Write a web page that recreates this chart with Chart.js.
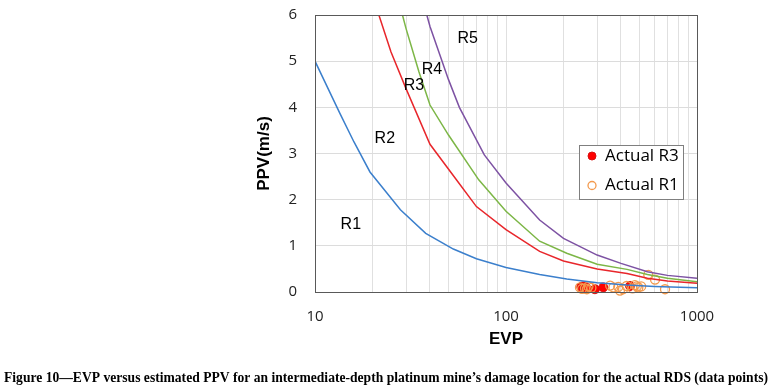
<!DOCTYPE html>
<html>
<head>
<meta charset="UTF-8">
<title>EVP versus PPV</title>
<script src="https://cdn.jsdelivr.net/npm/chart.js@4.4.1/dist/chart.umd.min.js"></script>
<style>
    body { margin: 0; background: #fff; }
</style>
</head>
<body>
<canvas id="myChart" width="772" height="388"></canvas>
<script>
// boundary curves, EVP (x) and PPV in m/s (y)
var blueEVP = [10, 13.5, 16, 19.4, 28, 38, 53, 70, 100, 150, 208, 300, 430, 600, 1000];
var bluePPV = [5.0, 3.87, 3.25, 2.6, 1.78, 1.27, 0.93, 0.72, 0.53, 0.38, 0.28, 0.2, 0.15, 0.12, 0.09];

var redEVP = [20, 21.6, 25, 30, 40, 55, 70, 100, 150, 200, 300, 430, 550, 700, 1000];
var redPPV = [6.55, 6.0, 5.2, 4.4, 3.2, 2.43, 1.85, 1.35, 0.88, 0.67, 0.5, 0.4, 0.3, 0.24, 0.19];

var greenEVP = [27, 28.7, 30, 35, 40, 50, 72, 100, 150, 208, 300, 430, 550, 700, 1000];
var greenPPV = [6.4, 6.0, 5.7, 4.77, 4.05, 3.4, 2.43, 1.75, 1.1, 0.84, 0.6, 0.49, 0.38, 0.3, 0.22];

var purpleEVP = [36, 38.5, 40, 50, 57, 77, 100, 150, 200, 300, 400, 550, 700, 1000];
var purplePPV = [6.5, 6.0, 5.75, 4.6, 4.0, 2.97, 2.36, 1.56, 1.16, 0.8, 0.62, 0.44, 0.36, 0.3];

// actual damage points
var r3EVP = [248, 254, 262, 292, 323, 446];
var r3PPV = [0.11, 0.12, 0.1, 0.06, 0.1, 0.13];

var r1EVP = [244, 250, 259, 265, 270, 280, 351, 365, 387, 395, 410, 428, 460, 473, 484, 493, 510, 556, 603, 680];
var r1PPV = [0.1, 0.07, 0.08, 0.06, 0.12, 0.09, 0.14, 0.1, 0.11, 0.03, 0.06, 0.13, 0.08, 0.15, 0.12, 0.1, 0.12, 0.37, 0.27, 0.06];

// region labels placed in data units
var regionNames = ['R1', 'R2', 'R3', 'R4', 'R5'];
var regionEVP = [15.4, 23.2, 33, 41, 63];
var regionPPV = [1.47, 3.33, 4.48, 4.81, 5.49];

var xGridTicks = [10, 20, 30, 40, 50, 60, 70, 80, 90, 100, 200, 300, 400, 500, 600, 700, 800, 900, 1000];
var xTickLabels = [10, 100, 1000];
var yTicks = [0, 1, 2, 3, 4, 5, 6];

var caption = 'Figure 10\u2014EVP versus estimated PPV for an intermediate-depth platinum mine\u2019s damage location for the actual RDS (data points)';

function toPoints(xs, ys) {
    var pts = [];
    for (var i = 0; i < xs.length; i++) pts.push({ x: xs[i], y: ys[i] });
    return pts;
}

function curve(label, xs, ys, color) {
    return {
        label: label,
        data: toPoints(xs, ys),
        showLine: true,
        borderColor: color,
        backgroundColor: color,
        borderWidth: 1.5,
        pointRadius: 0,
        tension: 0,
        legendRow: -1
    };
}

// plot border, region labels, legend box and caption
var extras = {
    id: 'extras',
    afterDatasetsDraw: function (chart) {
        var ctx = chart.ctx, a = chart.chartArea;
        var xs = chart.scales.x, ys = chart.scales.y;
        ctx.save();
        ctx.strokeStyle = '#595959';
        ctx.lineWidth = 1;
        ctx.strokeRect(a.left + 0.5, a.top + 0.5, a.right - a.left, a.bottom - a.top);

        ctx.fillStyle = '#000';
        ctx.font = '16px "Liberation Sans", Arial, sans-serif';
        ctx.textAlign = 'center';
        ctx.textBaseline = 'middle';
        for (var i = 0; i < regionNames.length; i++) {
            ctx.fillText(regionNames[i], xs.getPixelForValue(regionEVP[i]), ys.getPixelForValue(regionPPV[i]));
        }

        // legend
        var items = chart.data.datasets.filter(function (d) { return d.legendRow >= 0; });
        items.sort(function (p, q) { return p.legendRow - q.legendRow; });
        var bx = a.right - 118, by = a.top + 130, bw = 104, bh = 54;
        ctx.fillStyle = '#fff';
        ctx.fillRect(bx, by, bw, bh);
        ctx.strokeStyle = '#7f7f7f';
        ctx.strokeRect(bx + 0.5, by + 0.5, bw, bh);
        ctx.font = '17px "Open Sans", sans-serif';
        ctx.textAlign = 'left';
        for (var j = 0; j < items.length; j++) {
            var d = items[j];
            var cy = by + 11 + j * 29.5;
            ctx.beginPath();
            ctx.arc(bx + 13, cy, 4, 0, Math.PI * 2);
            ctx.fillStyle = d.pointBackgroundColor;
            ctx.fill();
            ctx.lineWidth = d.pointBorderWidth;
            ctx.strokeStyle = d.pointBorderColor;
            ctx.stroke();
            ctx.fillStyle = '#000';
            ctx.fillText(d.label, bx + 26, cy);
        }
        ctx.restore();
    },
    afterDraw: function (chart) {
        var ctx = chart.ctx;
        ctx.save();
        ctx.fillStyle = '#000';
        ctx.font = 'bold 15px "Liberation Serif", "Times New Roman", serif';
        ctx.textAlign = 'center';
        ctx.textBaseline = 'alphabetic';
        ctx.fillText(caption, chart.width / 2, 382, 764);
        ctx.restore();
    }
};

var ctx = document.getElementById('myChart').getContext('2d');
var chart = new Chart(ctx, {
    type: 'scatter',
    data: {
        datasets: [
            curve('R1/R2', blueEVP, bluePPV, '#3b7fcc'),
            curve('R2/R3', redEVP, redPPV, '#e8262b'),
            curve('R3/R4', greenEVP, greenPPV, '#7cb646'),
            curve('R4/R5', purpleEVP, purplePPV, '#7d52a3'),
            {
                label: 'Actual R1',
                data: toPoints(r1EVP, r1PPV),
                showLine: false,
                pointRadius: 4.5,
                pointBackgroundColor: 'rgba(255,255,255,0)',
                pointBorderColor: '#f39a4e',
                pointBorderWidth: 1.3,
                clip: false,
                legendRow: 1
            },
            {
                label: 'Actual R3',
                data: toPoints(r3EVP, r3PPV),
                showLine: false,
                pointRadius: 4.5,
                pointBackgroundColor: '#ff0000',
                pointBorderColor: '#d81010',
                pointBorderWidth: 1,
                clip: false,
                legendRow: 0
            }
        ]
    },
    options: {
        responsive: false,
        animation: false,
        devicePixelRatio: 1,
        layout: { padding: { left: 240, right: 75, top: 15, bottom: 31 } },
        plugins: {
            legend: { display: false },
            tooltip: { enabled: false }
        },
        scales: {
            x: {
                type: 'logarithmic',
                min: 10,
                max: 1000,
                afterBuildTicks: function (scale) {
                    scale.ticks = xGridTicks.map(function (v) { return { value: v }; });
                },
                afterFit: function (scale) { scale.height = 65; },
                grid: { color: '#e0e0e0', drawTicks: false },
                border: { color: '#595959' },
                ticks: {
                    autoSkip: false,
                    maxRotation: 0,
                    padding: 16,
                    color: '#222',
                    font: { family: '"Open Sans", sans-serif', size: 15 },
                    callback: function (v) { return xTickLabels.indexOf(v) >= 0 ? String(v) : ''; }
                },
                title: {
                    display: true,
                    text: 'EVP',
                    color: '#000',
                    padding: { top: 0, bottom: 7 },
                    font: { family: '"Liberation Sans", Arial, sans-serif', size: 17, weight: 'bold' }
                }
            },
            y: {
                min: 0,
                max: 6,
                afterBuildTicks: function (scale) {
                    scale.ticks = yTicks.map(function (v) { return { value: v }; });
                },
                afterFit: function (scale) {
                    scale.width = 75;
                    scale.paddingTop = 9;
                    scale.paddingBottom = 9;
                },
                grid: { color: '#dcdcdc', drawTicks: false },
                border: { color: '#595959' },
                ticks: {
                    padding: 18,
                    color: '#222',
                    font: { family: '"Open Sans", sans-serif', size: 15 }
                },
                title: {
                    display: true,
                    text: 'PPV(m/s)',
                    color: '#000',
                    padding: { top: 14, bottom: 0 },
                    font: { family: '"Liberation Sans", Arial, sans-serif', size: 17, weight: 'bold' }
                }
            }
        }
    },
    plugins: [extras]
});
</script>
</body>
</html>
